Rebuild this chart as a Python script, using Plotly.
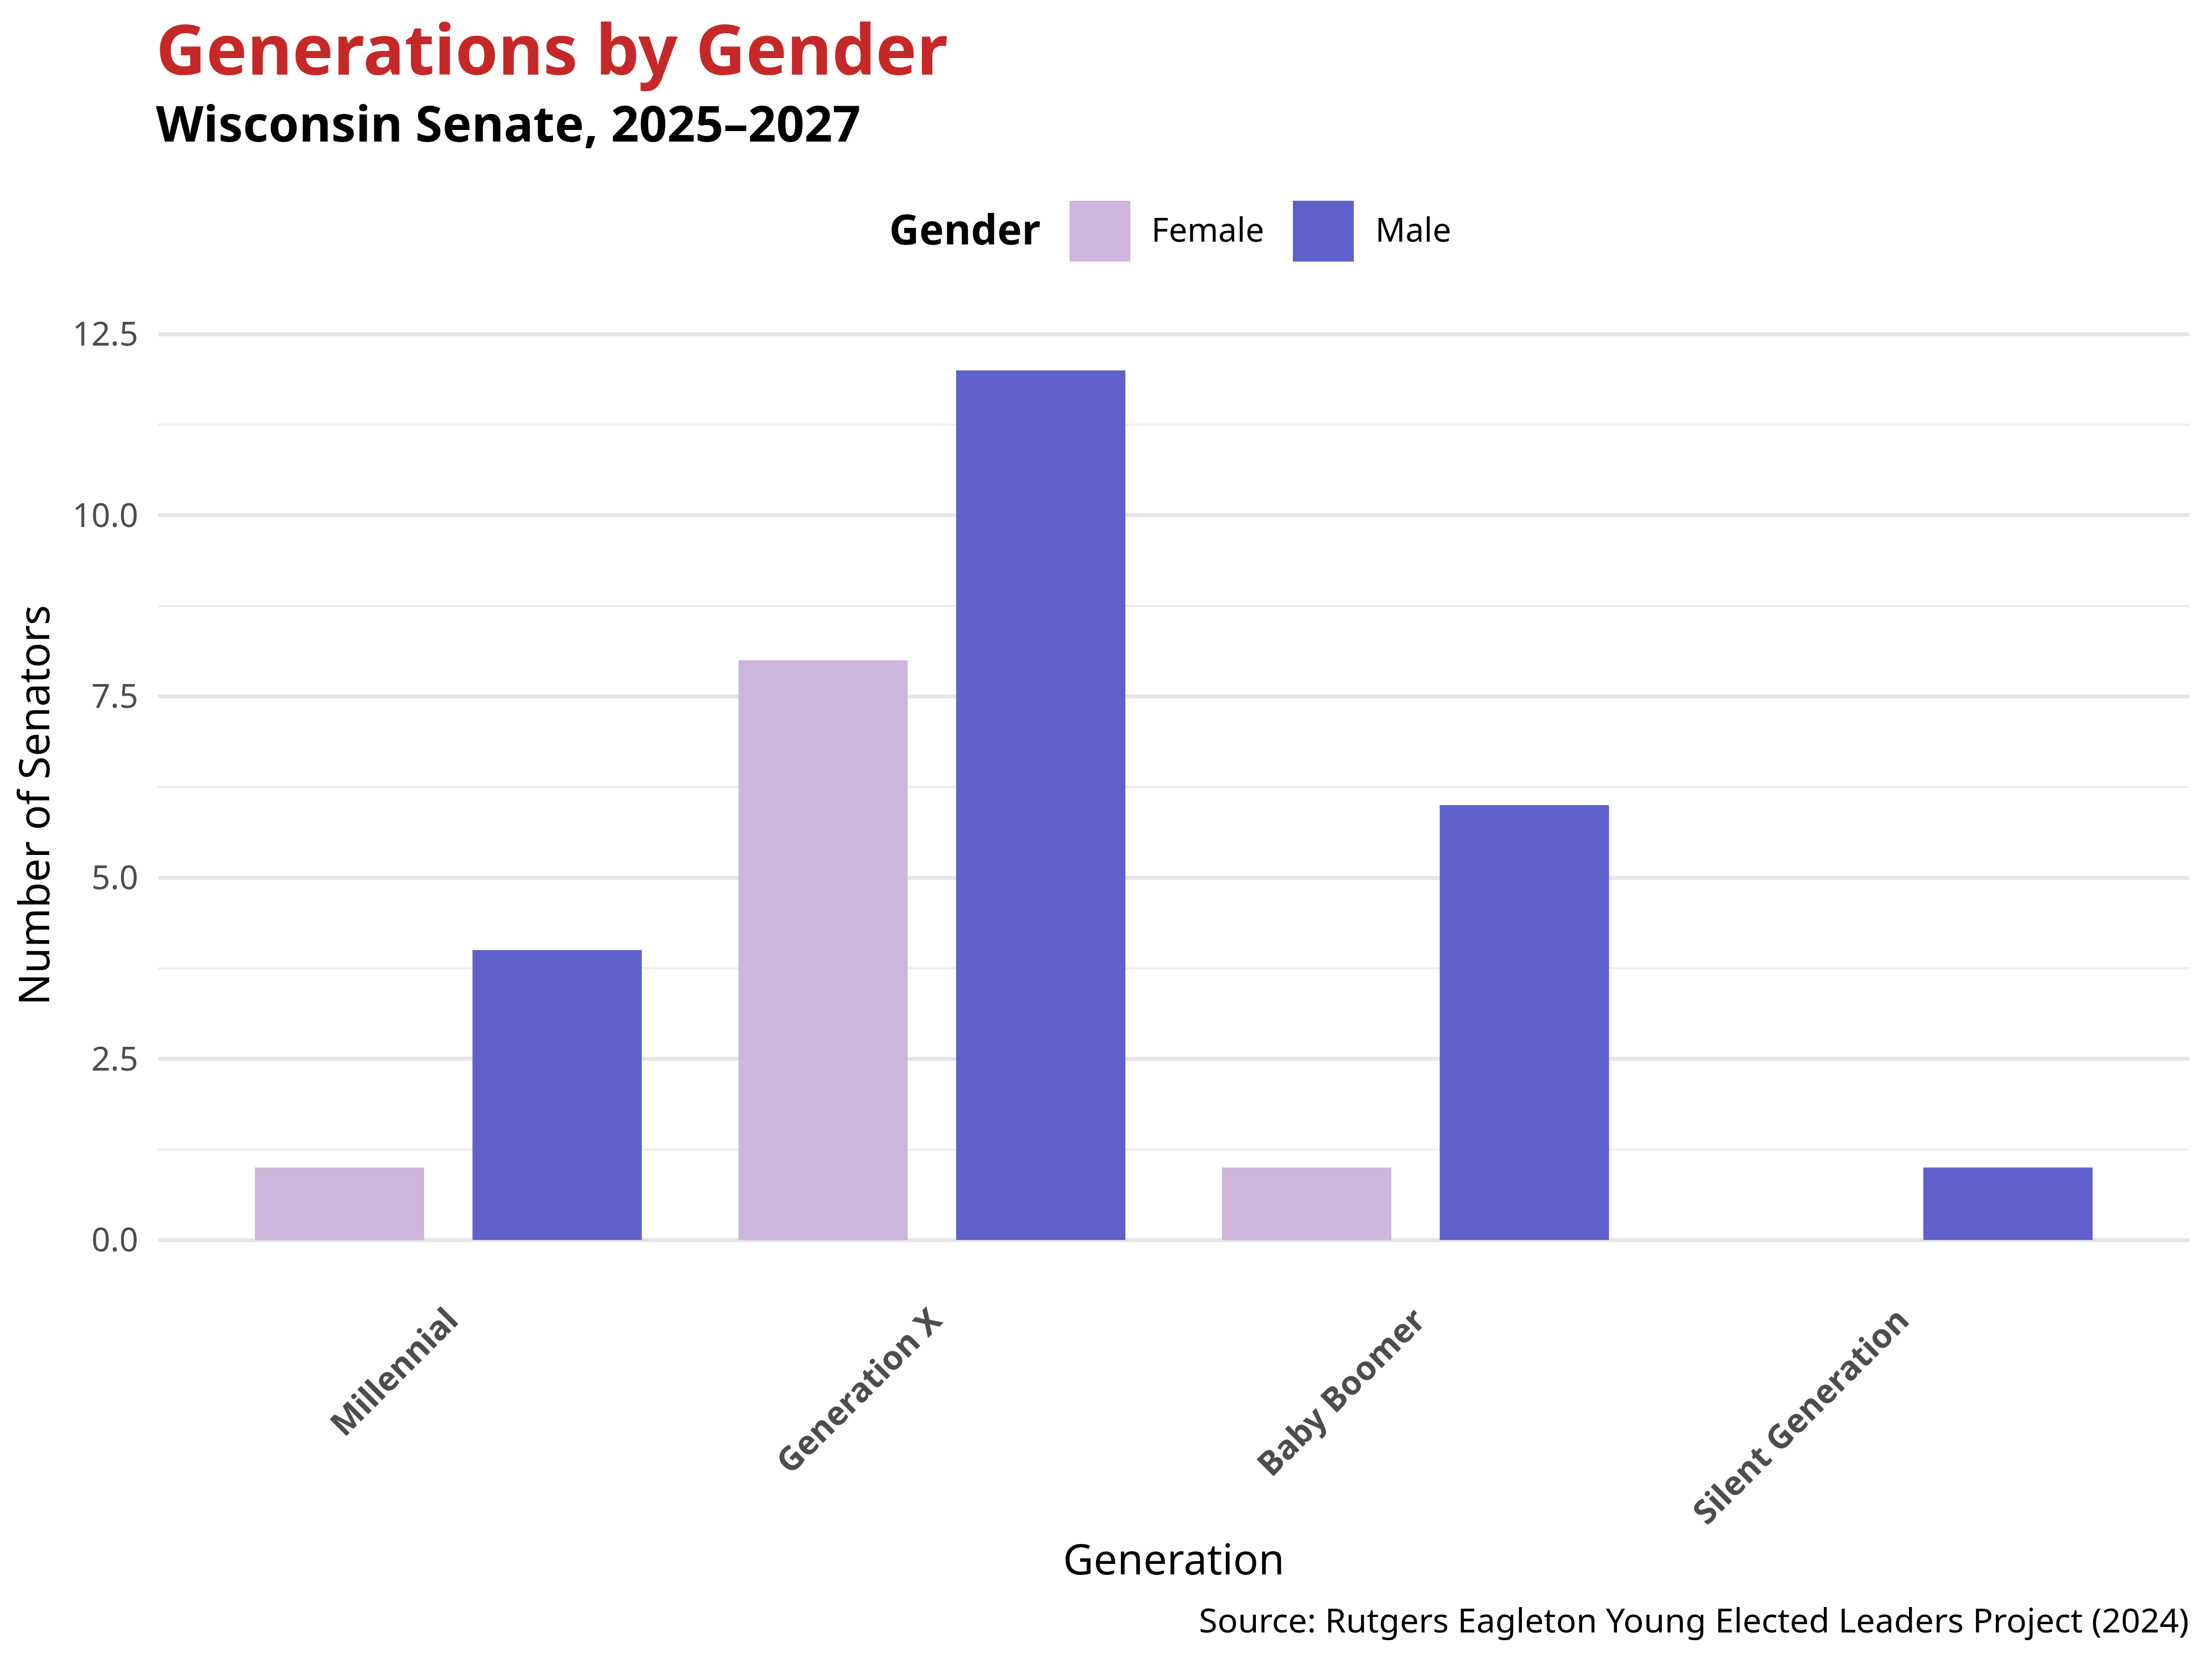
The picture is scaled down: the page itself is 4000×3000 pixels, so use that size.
import plotly.graph_objects as go

# ---- data ----
generations = ["Millennial", "Generation X", "Baby Boomer", "Silent Generation"]
female_counts = [1, 8, 1, 0]
male_counts = [4, 12, 6, 1]
genders = ["Female", "Male"]
gender_colors = ["#CDB5DB", "#5F60CC"]
y_ticks = [0, 2.5, 5, 7.5, 10, 12.5]
y_tick_labels = ["0.0", "2.5", "5.0", "7.5", "10.0", "12.5"]

title_text = "Generations by Gender"
subtitle_text = "Wisconsin Senate, 2025\u20132027"
caption_text = "Source: Rutgers Eagleton Young Elected Leaders Project (2024)"

FONT = "Noto Sans"
W, H = 4000, 3000
OFF = 8  # page body margin
# plot area in window pixels: x 286..3959, y 591..2321
L = 286 - OFF
T = 591 - OFF
R = W - (3959 - OFF)
B = H - (2321 - OFF)
PW, PH = W - L - R, H - T - B


def px_x(x):
    return (x - OFF - L) / PW


def px_y(y):
    return (H - B - (y - OFF)) / PH


fig = go.Figure()
for name, vals, col in zip(genders, [female_counts, male_counts], gender_colors):
    fig.add_trace(go.Bar(
        x=generations, y=vals, name=name,
        marker=dict(color=col, line=dict(width=0)),
        showlegend=False,
    ))

fig.update_layout(
    width=W, height=H,
    margin=dict(l=L, r=R, t=T, b=B, autoexpand=False),
    paper_bgcolor="white", plot_bgcolor="white",
    barmode="group", bargap=0.1, bargroupgap=0.2222,
    font=dict(family=FONT, color="black"),
    xaxis=dict(
        range=[-0.6, 3.6], showgrid=False, zeroline=False, showline=False,
        ticks="", tickangle=-45, ticklabelstandoff=18,
        tickfont=dict(family=FONT, size=60, color="#4D4D4D", weight="bold"),
        title=dict(text="Generation", font=dict(family=FONT, size=76, color="black"), standoff=22),
    ),
    yaxis=dict(
        range=[-0.6, 12.6], tickvals=y_ticks, ticktext=y_tick_labels,
        showgrid=True, gridcolor="#E5E5E5", gridwidth=7,
        zeroline=False, showline=False, ticks="", ticklabelstandoff=35,
        tickfont=dict(family=FONT, size=60, color="#4D4D4D"),
        minor=dict(dtick=1.25, tick0=0, showgrid=True, gridcolor="#EEEEEE", gridwidth=4),
        title=dict(text="Number of Senators", font=dict(family=FONT, size=76, color="black"), standoff=40),
    ),
)

annotations = [
    dict(text=title_text, xref="paper", yref="paper", x=px_x(280), y=px_y(87),
         xanchor="left", yanchor="middle", showarrow=False,
         font=dict(family=FONT, size=125, color="#C62828", weight="bold")),
    dict(text=subtitle_text, xref="paper", yref="paper", x=px_x(280), y=px_y(221),
         xanchor="left", yanchor="middle", showarrow=False,
         font=dict(family=FONT, size=89, color="black", weight="bold")),
    dict(text="Gender", xref="paper", yref="paper", x=px_x(1606), y=px_y(413),
         xanchor="left", yanchor="middle", showarrow=False,
         font=dict(family=FONT, size=75, color="black", weight="bold")),
    dict(text=caption_text, xref="paper", yref="paper", x=px_x(3960), y=px_y(2928),
         xanchor="right", yanchor="middle", showarrow=False,
         font=dict(family=FONT, size=61, color="black")),
]

shapes = []
swatch_left = [1934, 2338]
label_left = [2080, 2485]
for g, col, sx, lx in zip(genders, gender_colors, swatch_left, label_left):
    shapes.append(dict(type="rect", xref="paper", yref="paper",
                       x0=px_x(sx), x1=px_x(sx + 110), y0=px_y(473), y1=px_y(363),
                       fillcolor=col, line=dict(width=0)))
    annotations.append(dict(text=g, xref="paper", yref="paper", x=px_x(lx), y=px_y(414),
                            xanchor="left", yanchor="middle", showarrow=False,
                            font=dict(family=FONT, size=60, color="black")))

fig.update_layout(annotations=annotations, shapes=shapes)
fig.write_html("out.html")
